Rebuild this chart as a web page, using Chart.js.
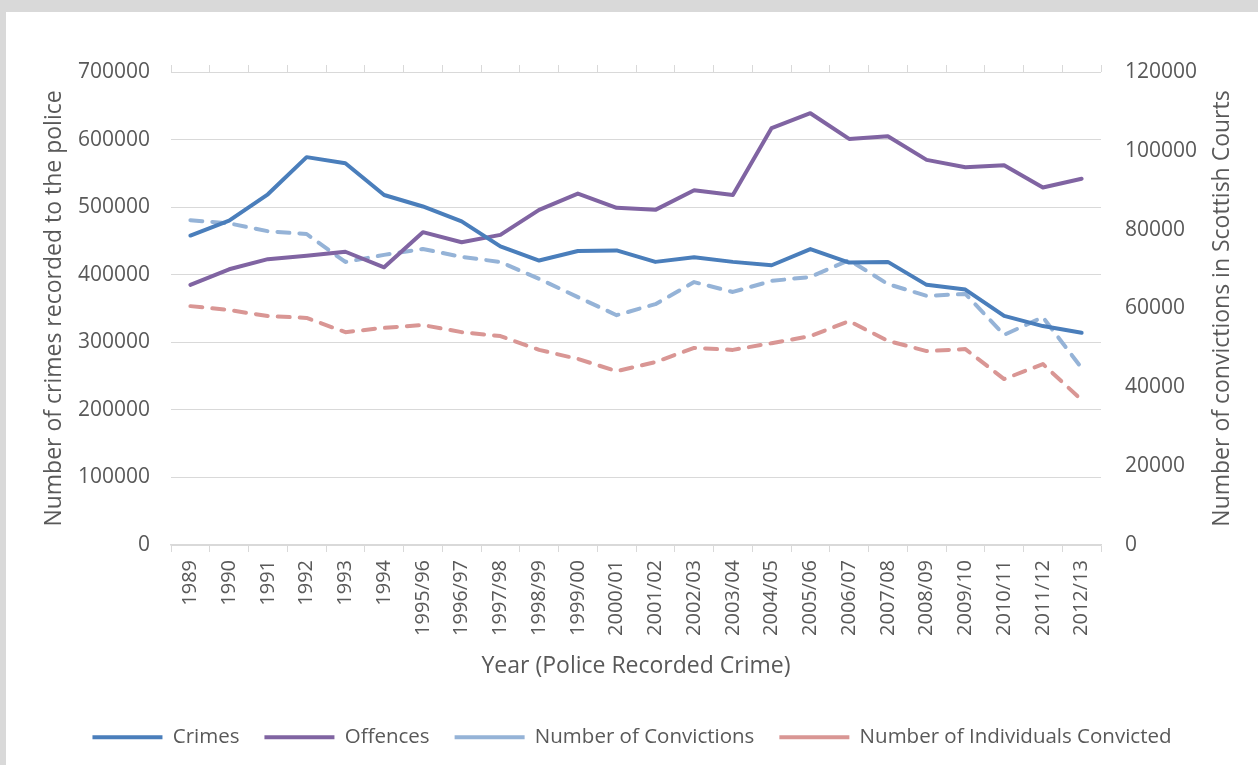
<!DOCTYPE html>
<html>
<head>
<meta charset="utf-8">
<script src="https://cdn.jsdelivr.net/npm/chart.js@4"></script>
<style>
    body { margin: 0; background: #d9d9d9; }
    #panel { position: absolute; left: 6px; top: 12px; width: 1252px; height: 753px; background: #fff; }
</style>
</head>
<body>
<div id="panel"><canvas id="crimeChart"></canvas></div>
<script>
const years = ['1989', '1990', '1991', '1992', '1993', '1994', '1995/96', '1996/97', '1997/98',
    '1998/99', '1999/00', '2000/01', '2001/02', '2002/03', '2003/04', '2004/05', '2005/06',
    '2006/07', '2007/08', '2008/09', '2009/10', '2010/11', '2011/12', '2012/13'];

// left axis: police recorded
const crimes = [458000, 480000, 519000, 574000, 565000, 518000, 501000, 479000, 442000,
    421000, 435000, 436000, 419000, 426000, 419000, 414000, 438000, 418000, 419000,
    385000, 378000, 339000, 324000, 314000];
const offences = [385000, 408000, 423000, 428000, 434000, 411000, 463000, 448000, 459000,
    496000, 520000, 499000, 496000, 525000, 518000, 617000, 639000, 601000, 605000,
    570000, 559000, 562000, 529000, 542000];

// right axis: courts
const convictions = [82400, 81600, 79600, 78900, 71800, 73600, 75100, 73100, 71800,
    67500, 62900, 58300, 61100, 66700, 64200, 67000, 68000, 72300, 66200,
    63200, 63700, 53300, 57800, 44900];
const individuals = [60600, 59600, 58100, 57600, 54000, 55100, 55800, 54000, 53000,
    49500, 47200, 44100, 46400, 50000, 49500, 51200, 53000, 56800, 51800,
    49200, 49700, 42100, 45900, 36800];

const leftTicks = [0, 100000, 200000, 300000, 400000, 500000, 600000, 700000];
const rightTicks = [0, 20000, 40000, 60000, 80000, 100000, 120000];

const textColor = '#595959';
const gridColor = '#d9d9d9';
const fontFamily = '"Open Sans", Lato, sans-serif';
const tickFont = { family: fontFamily, size: 21 };
const titleFont = { family: fontFamily, size: 23 };

// right title reads bottom-to-top, which Chart.js doesn't do on a right axis
const rightTitle = {
    id: 'rightTitle',
    afterDraw(chart) {
        const ctx = chart.ctx;
        const area = chart.chartArea;
        ctx.save();
        ctx.translate(1216, (area.top + area.bottom) / 2);
        ctx.rotate(-Math.PI / 2);
        ctx.fillStyle = textColor;
        ctx.font = '23px ' + fontFamily;
        ctx.textAlign = 'center';
        ctx.textBaseline = 'middle';
        ctx.fillText('Number of convictions in Scottish Courts', 0, 0);
        ctx.restore();
    }
};

const line = (label, data, color, axis, dashed) => ({
    label: label,
    data: data,
    yAxisID: axis,
    borderColor: color,
    backgroundColor: color,
    borderWidth: 4,
    borderDash: dashed ? [12, 10] : [],
    borderCapStyle: 'round',
    borderJoinStyle: 'round',
    pointRadius: 0,
    tension: 0,
    fill: false
});

new Chart(document.getElementById('crimeChart'), {
    type: 'line',
    data: {
        labels: years,
        datasets: [
            line('Crimes', crimes, '#4a7ebb', 'y', false),
            line('Offences', offences, '#8064a2', 'y', false),
            line('Number of Convictions', convictions, '#95b3d7', 'y1', true),
            line('Number of Individuals Convicted', individuals, '#d99694', 'y1', true)
        ]
    },
    options: {
        responsive: true,
        maintainAspectRatio: false,
        animation: false,
        layout: { padding: { top: 53, bottom: 7.5, left: 0, right: 0 } },
        plugins: {
            tooltip: { enabled: false },
            legend: {
                position: 'bottom',
                labels: {
                    usePointStyle: true,
                    pointStyle: 'line',
                    pointStyleWidth: 70,
                    padding: 25,
                    color: textColor,
                    font: { family: fontFamily, size: 20.5 }
                }
            }
        },
        scales: {
            x: {
                offset: true,
                grid: { offset: true, drawOnChartArea: false, drawTicks: true, tickLength: 7, color: gridColor },
                border: { display: true, color: gridColor, width: 1.5 },
                ticks: {
                    autoSkip: false, minRotation: 90, maxRotation: 90, padding: 8,
                    color: textColor, font: { family: fontFamily, size: 20 }
                },
                title: {
                    display: true, text: 'Year (Police Recorded Crime)', color: textColor,
                    font: titleFont, padding: { top: 0, bottom: 22 }
                },
                afterFit: (scale) => { scale.height = 157; }
            },
            xTop: {
                type: 'category',
                labels: years,
                position: 'top',
                offset: true,
                grid: { offset: true, drawOnChartArea: false, drawTicks: true, tickLength: 7, color: gridColor },
                border: { display: false },
                ticks: { display: false },
                afterFit: (scale) => { scale.height = 7; }
            },
            y: {
                position: 'left',
                min: 0,
                max: 700000,
                afterBuildTicks: (scale) => { scale.ticks = leftTicks.map(v => ({ value: v })); },
                grid: { color: gridColor, drawTicks: false },
                border: { display: false },
                ticks: { padding: 21, color: textColor, font: tickFont, callback: (v) => String(v) },
                title: {
                    display: true, text: 'Number of crimes recorded to the police', color: textColor,
                    font: titleFont, padding: { top: 35, bottom: 0 }
                },
                afterFit: (scale) => { scale.width = 165; }
            },
            y1: {
                position: 'right',
                min: 0,
                max: 120000,
                afterBuildTicks: (scale) => { scale.ticks = rightTicks.map(v => ({ value: v })); },
                grid: { drawOnChartArea: false, drawTicks: false },
                border: { display: false },
                ticks: { padding: 24, color: textColor, font: tickFont, callback: (v) => String(v) },
                afterFit: (scale) => { scale.width = 157; }
            }
        }
    },
    plugins: [rightTitle]
});
</script>
</body>
</html>
